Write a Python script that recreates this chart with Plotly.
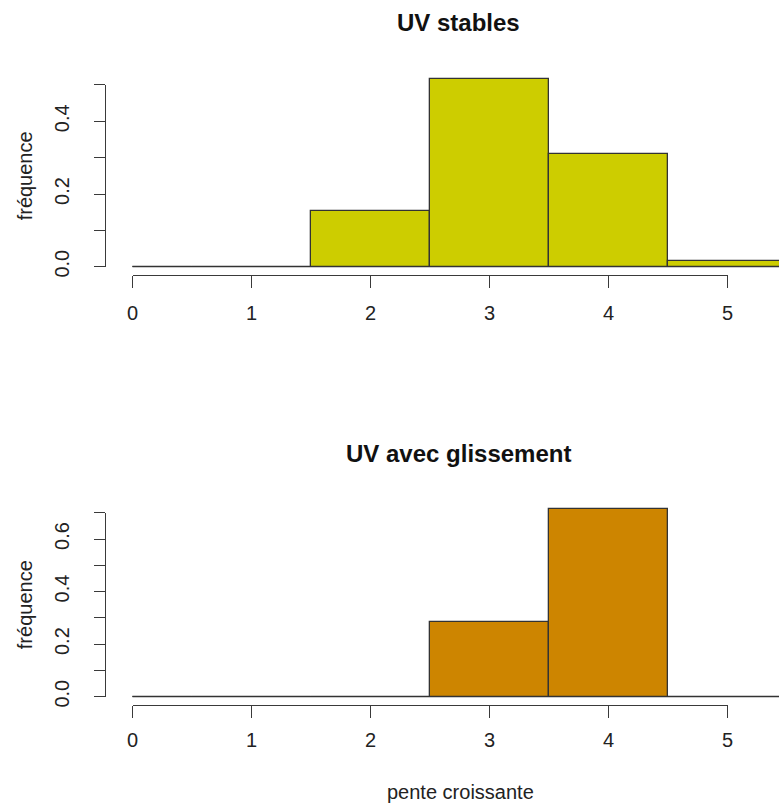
import plotly.graph_objects as go

# ---------------- data ----------------
bin_edges = [0, 0.5, 1.5, 2.5, 3.5, 4.5, 5.5]
freq_stables = [0, 0, 0.154, 0.516, 0.309, 0.017]
freq_glissement = [0, 0, 0, 0.286, 0.714, 0]
x_ticks = [0, 1, 2, 3, 4, 5]
y_ticks_top = [0.0, 0.1, 0.2, 0.3, 0.4, 0.5]
y_ticklabels_top = ["0.0", "", "0.2", "", "0.4", ""]
y_ticks_bot = [0.0, 0.1, 0.2, 0.3, 0.4, 0.5, 0.6, 0.7]
y_ticklabels_bot = ["0.0", "", "0.2", "", "0.4", "", "0.6", ""]
titles = ["UV stables", "UV avec glissement"]
x_label = "pente croissante"
y_label = "fréquence"
colors = ["#CDCD00", "#CD8500"]

# ---------------- geometry (reference pixels, converted to paper fractions) ----------------
W, H = 779, 804
X0PX, XSC = 132.5, 119.0           # pixel of x=0, pixels per unit
PLOT_L, PLOT_R = 105, 779
panels = [
    dict(y0px=266.7, ysc=363.5, bottom=275, top=60, title_y=22, xstand=8),
    dict(y0px=696.7, ysc=262.8, bottom=705, top=490, title_y=453, xstand=5),
]
FONT = "Liberation Sans, Arial, sans-serif"
AXC = "#3a3a3a"

centers = [(a + b) / 2 for a, b in zip(bin_edges[:-1], bin_edges[1:])]
widths = [b - a for a, b in zip(bin_edges[:-1], bin_edges[1:])]

fig = go.Figure()
layout = dict(
    width=W, height=H, autosize=False,
    margin=dict(l=0, r=0, t=0, b=0, pad=0, autoexpand=False),
    paper_bgcolor="white", plot_bgcolor="rgba(0,0,0,0)",
    showlegend=False, font=dict(family=FONT, size=20, color="#222"),
    bargap=0,
)

def fx(px):
    return px / W

def fy(py):
    return 1 - py / H

xr = [(PLOT_L - X0PX) / XSC, (PLOT_R - X0PX) / XSC]
annotations = []
data_sets = [freq_stables, freq_glissement]
ytick_sets = [(y_ticks_top, y_ticklabels_top), (y_ticks_bot, y_ticklabels_bot)]

for i, p in enumerate(panels):
    dx = f"x{2*i+1}" if i else "x"
    dy = f"y{2*i+1}" if i else "y"
    ax_d = "xaxis" + (str(2*i+1) if i else "")
    ay_d = "yaxis" + (str(2*i+1) if i else "")
    ax_s = "xaxis" + str(2*i+2)
    ay_s = "yaxis" + str(2*i+2)
    sx, sy = f"x{2*i+2}", f"y{2*i+2}"

    yr = [(p["y0px"] - p["bottom"]) / p["ysc"], (p["y0px"] - p["top"]) / p["ysc"]]
    layout[ax_d] = dict(domain=[fx(PLOT_L), fx(PLOT_R)], range=xr, visible=False,
                        anchor=dy, fixedrange=True, automargin=False)
    layout[ay_d] = dict(domain=[fy(p["bottom"]), fy(p["top"])], range=yr, visible=False,
                        anchor=dx, fixedrange=True, automargin=False)

    # baseline (zero-height bins) and bars
    fig.add_trace(go.Scatter(x=[bin_edges[0], bin_edges[-1]], y=[0, 0], mode="lines",
                             line=dict(color="#333", width=1.3), xaxis=dx, yaxis=dy,
                             hoverinfo="skip"))
    fig.add_trace(go.Bar(x=centers, y=data_sets[i], width=widths, xaxis=dx, yaxis=dy,
                         marker=dict(color=colors[i], line=dict(color="#333", width=1.3))))

    # display axes
    tv, tt = ytick_sets[i]
    ymax = tv[-1]
    layout[ax_s] = dict(
        domain=[fx(X0PX + x_ticks[0] * XSC), fx(X0PX + x_ticks[-1] * XSC)],
        range=[x_ticks[0], x_ticks[-1]], anchor="free", position=fy(p["bottom"]),
        showline=True, linecolor=AXC, linewidth=1.3, ticks="outside", ticklen=12,
        tickwidth=1.3, tickcolor=AXC, tickvals=x_ticks, ticktext=[str(v) for v in x_ticks],
        showgrid=False, zeroline=False, tickfont=dict(size=20, color="#222"),
        ticklabelstandoff=p["xstand"], fixedrange=True, automargin=False,
    )
    layout[ay_s] = dict(
        domain=[fy(p["y0px"]), fy(p["y0px"] - ymax * p["ysc"])],
        range=[tv[0], ymax], anchor="free", position=fx(PLOT_L),
        showline=True, linecolor=AXC, linewidth=1.3, ticks="outside", ticklen=11,
        tickwidth=1.3, tickcolor=AXC, tickvals=tv, ticktext=tt, tickangle=-90,
        showgrid=False, zeroline=False, tickfont=dict(size=20, color="#222"),
        ticklabelstandoff=17, fixedrange=True, automargin=False,
    )
    fig.add_trace(go.Scatter(x=[], y=[], xaxis=sx, yaxis=sy, hoverinfo="skip"))

    # titles and labels
    plot_top = p["y0px"] - ymax * 1.04 * p["ysc"]
    annotations.append(dict(text=f"<b>{titles[i]}</b>", xref="paper", yref="paper",
                            x=fx((PLOT_L + 812) / 2), y=fy(p["title_y"]),
                            xanchor="center", yanchor="middle", showarrow=False,
                            font=dict(size=24, color="#111")))
    annotations.append(dict(text=y_label, xref="paper", yref="paper",
                            x=fx(25), y=fy((p["bottom"] + plot_top) / 2),
                            xanchor="center", yanchor="middle", textangle=-90,
                            showarrow=False, font=dict(size=20, color="#222")))

annotations.append(dict(text=x_label, xref="paper", yref="paper", x=fx(460), y=fy(792),
                        xanchor="center", yanchor="middle", showarrow=False,
                        font=dict(size=20, color="#222")))
layout["annotations"] = annotations
fig.update_layout(**layout)

post = (
    "document.documentElement.style.margin='0';"
    "document.documentElement.style.overflow='hidden';"
    "document.body.style.margin='0';"
    "document.body.style.overflow='hidden';"
    "var gd=document.getElementById('{plot_id}');"
    "gd.style.position='fixed';gd.style.left='0px';gd.style.top='0px';"
)
fig.write_html("out.html", config={"displayModeBar": False, "responsive": False},
               post_script=post)
